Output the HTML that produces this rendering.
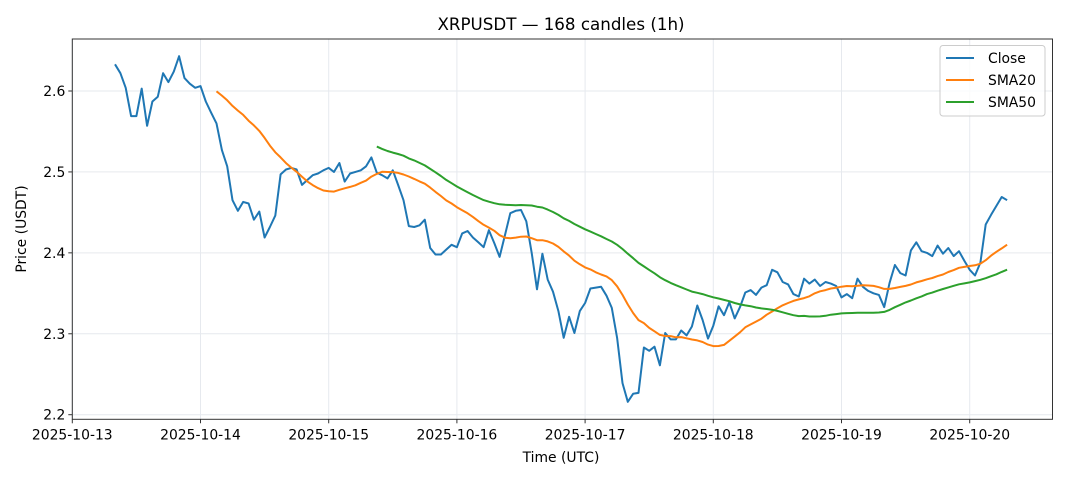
<!DOCTYPE html>
<html><head><meta charset="utf-8">
<style>
body{margin:0;background:#fff;}
svg{display:block;font-family:"DejaVu Sans","Liberation Sans",sans-serif;}
</style></head>
<body>
<svg id="chart" width="1068" height="481">
<text x="561" y="30" text-anchor="middle" font-size="16.7" fill="#000">XRPUSDT — 168 candles (1h)</text>
<text x="561" y="462" text-anchor="middle" font-size="13.9" fill="#000">Time (UTC)</text>
<text x="26" y="229" text-anchor="middle" font-size="13.9" fill="#000" transform="rotate(-90 26 229)">Price (USDT)</text>
<g id="grid"></g><g id="series"></g><g id="axes"></g>
<g>
<rect x="940" y="45.5" width="105" height="70.5" rx="3" fill="#fff" fill-opacity="0.8" stroke="#ccc"/>
<line x1="946" y1="58" x2="974" y2="58" stroke="#1f77b4" stroke-width="2"/>
<text x="988" y="63" font-size="13.9">Close</text>
<line x1="946" y1="80" x2="974" y2="80" stroke="#ff7f0e" stroke-width="2"/>
<text x="988" y="85" font-size="13.9">SMA20</text>
<line x1="946" y1="102" x2="974" y2="102" stroke="#2ca02c" stroke-width="2"/>
<text x="988" y="107" font-size="13.9">SMA50</text>
</g>
</svg>
<script>
const closes=[2.633,2.622,2.604,2.569,2.569,2.603,2.557,2.587,2.593,2.622,2.611,2.624,2.643,2.616,2.609,2.604,2.606,2.587,2.573,2.560,
2.527,2.507,2.465,2.452,2.463,2.461,2.441,2.451,2.419,2.432,2.446,2.497,2.503,2.505,2.503,2.484,2.490,2.496,2.498,2.502,
2.505,2.500,2.511,2.488,2.498,2.500,2.502,2.507,2.518,2.499,2.496,2.492,2.502,2.484,2.465,2.433,2.432,2.434,2.441,2.406,
2.398,2.398,2.404,2.410,2.407,2.424,2.427,2.419,2.413,2.407,2.428,2.412,2.395,2.422,2.449,2.452,2.453,2.439,2.400,2.355,
2.399,2.367,2.352,2.328,2.295,2.321,2.301,2.328,2.338,2.356,2.357,2.358,2.347,2.332,2.295,2.239,2.216,2.226,2.227,2.283,
2.279,2.284,2.261,2.301,2.293,2.293,2.304,2.298,2.309,2.335,2.317,2.294,2.310,2.334,2.323,2.339,2.319,2.333,2.351,2.354,
2.348,2.357,2.360,2.379,2.376,2.364,2.361,2.349,2.346,2.368,2.362,2.367,2.359,2.364,2.362,2.359,2.345,2.349,2.344,2.368,
2.358,2.353,2.350,2.348,2.333,2.363,2.385,2.375,2.372,2.403,2.413,2.402,2.400,2.396,2.409,2.399,2.406,2.396,2.402,2.390,
2.379,2.372,2.388,2.435,2.447,2.458,2.469,2.465];
const startHour=8; // 2025-10-13 08:00 UTC
const yTicks=[2.2,2.3,2.4,2.5,2.6];
const xTickLabels=["2025-10-13","2025-10-14","2025-10-15","2025-10-16","2025-10-17","2025-10-18","2025-10-19","2025-10-20"];

const L=72.3,R=1052.5,T=39,B=419.3;
const dayPx=128.2;
function xh(h){return L+h*dayPx/24;}
function xi(i){return xh(startHour+i);}
function y(v){return 414.7-(v-2.2)*809.25;}
const NS="http://www.w3.org/2000/svg";
function mk(tag,attrs,parent){const e=document.createElementNS(NS,tag);for(const k in attrs)e.setAttribute(k,attrs[k]);parent.appendChild(e);return e;}
const grid=document.getElementById('grid'),axes=document.getElementById('axes'),series=document.getElementById('series');
yTicks.forEach(v=>{
  const g=mk('line',{x1:L,x2:R,y1:y(v),y2:y(v),stroke:'#e6e9ee','stroke-width':1},grid);
  
  
  mk('line',{x1:L-4,x2:L,y1:y(v),y2:y(v),stroke:'#333'},axes);
  const t=mk('text',{x:L-7,y:y(v)+5,'text-anchor':'end','font-size':13.9},axes);
  t.textContent=v.toFixed(1);
  
  
});
xTickLabels.forEach((lab,d)=>{
  const x=xh(d*24);
  const g=mk('line',{x1:x,x2:x,y1:T,y2:B,stroke:'#e6e9ee','stroke-width':1},grid);
  
  
  mk('line',{x1:x,x2:x,y1:B,y2:B+4,stroke:'#333'},axes);
  const t=mk('text',{x:x,y:B+20,'text-anchor':'middle','font-size':13.9},axes);
  t.textContent=lab;
  
  
});
const frame=mk('rect',{x:L,y:T,width:R-L,height:B-T,fill:'none',stroke:'#333','stroke-width':1},axes);


function sma(n){const out=[];for(let i=n-1;i<closes.length;i++){let s=0;for(let j=i-n+1;j<=i;j++)s+=closes[j];out.push([i,s/n]);}return out;}
function path(pts,color,name){
  const d=pts.map((p,k)=>(k?'L':'M')+xi(p[0]).toFixed(1)+','+y(p[1]).toFixed(1)).join('');
  const p=mk('path',{d:d,fill:'none',stroke:color,'stroke-width':2,'stroke-linejoin':'round'},series);
  
  
}
path(closes.map((v,i)=>[i,v]),'#1f77b4','close-line');
path(sma(20),'#ff7f0e','sma20-line');
path(sma(50),'#2ca02c','sma50-line');
</script>
</body></html>
